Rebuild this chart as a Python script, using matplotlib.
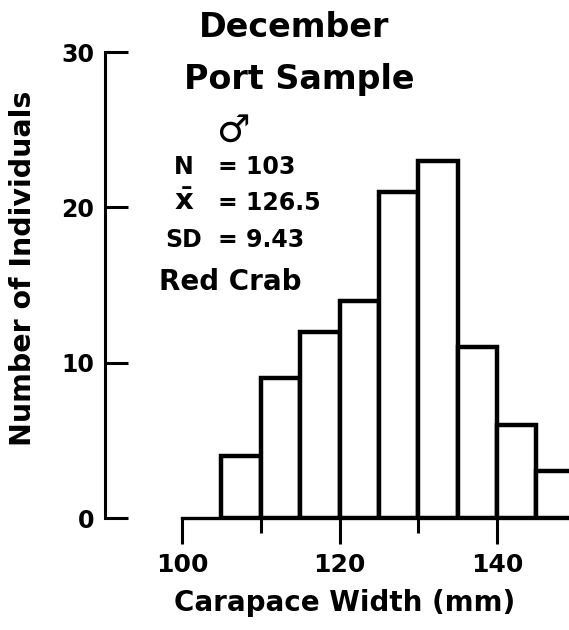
import matplotlib as mpl
mpl.use('Agg')
import matplotlib.pyplot as plt
import matplotlib.ticker as plticker

# bins of carapace width (mm), 5 mm wide
bin_left = [105, 110, 115, 120, 125, 130, 135, 140, 145]
counts = [4, 9, 12, 14, 21, 23, 11, 6, 3]
bin_width = 5

title_lines = ['December', 'Port Sample']
stat_names = ['N', r'$\mathbf{\bar{x}}$', 'SD']
stat_values = ['= 103', '= 126.5', '= 9.43']
species = 'Red Crab'

W, H = 569, 630
my_dpi = 100
fnt = 'DejaVu Sans'

def fx(x):
    return x / W

def fy(y):
    return 1 - y / H

fig = plt.figure(figsize=(W/my_dpi, H/my_dpi), dpi=my_dpi)
ax = fig.add_axes([fx(105), fy(518), fx(569) - fx(105), fy(52) - fy(518)])

ax.bar(bin_left, counts, width=bin_width, align='edge', color='white',
       edgecolor='black', linewidth=3.2, zorder=2)

ax.set_xlim(90.2, 149.15)
ax.set_ylim(0, 30)

ax.spines['top'].set_visible(False)
ax.spines['right'].set_visible(False)
ax.spines['left'].set_linewidth(2.2)
ax.spines['bottom'].set_linewidth(2.4)
ax.spines['left'].set_bounds(0, 30)
ax.spines['bottom'].set_bounds(100, 150)
ax.spines['bottom'].set_zorder(3)

ax.yaxis.set_major_locator(plticker.MultipleLocator(10))
ax.xaxis.set_major_locator(plticker.MultipleLocator(20))
ax.xaxis.set_minor_locator(plticker.MultipleLocator(10))

ax.tick_params(axis='y', direction='in', length=16.5, width=2.2, pad=8,
               labelsize=17)
ax.tick_params(axis='x', which='major', direction='out', length=19, width=2.2,
               pad=6, labelsize=18)
ax.tick_params(axis='x', which='minor', direction='out', length=11, width=2.2)
for lab in ax.get_xticklabels() + ax.get_yticklabels():
    lab.set_fontweight('bold')
    lab.set_family(fnt)

# titles and stats block
fig.text(fx(294), fy(37), title_lines[0], ha='center', va='baseline',
         fontsize=24, fontweight='bold', family=fnt)
fig.text(fx(299), fy(89), title_lines[1], ha='center', va='baseline',
         fontsize=24, fontweight='bold', family=fnt)
fig.text(fx(233), fy(132), '\u2642', ha='center', va='center',
         fontsize=27, family=fnt)

base = [174, 210, 247]
name_size = [17, 21, 17]
for name, val, yb, ns in zip(stat_names, stat_values, base, name_size):
    fig.text(fx(184), fy(yb), name, ha='center', va='baseline',
             fontsize=ns, fontweight='bold', family=fnt)
    fig.text(fx(218), fy(yb), val, ha='left', va='baseline',
             fontsize=17, fontweight='bold', family=fnt)
fig.text(fx(230), fy(290), species, ha='center', va='baseline',
         fontsize=20, fontweight='bold', family=fnt)

fig.text(fx(345), fy(603), 'Carapace Width (mm)', ha='center', va='center',
         fontsize=20, fontweight='bold', family=fnt)
fig.text(fx(23), fy(268), 'Number of Individuals', ha='center', va='center',
         rotation=90, fontsize=20.5, fontweight='bold', family=fnt)

plt.savefig('out.png', dpi=my_dpi, facecolor='white')
